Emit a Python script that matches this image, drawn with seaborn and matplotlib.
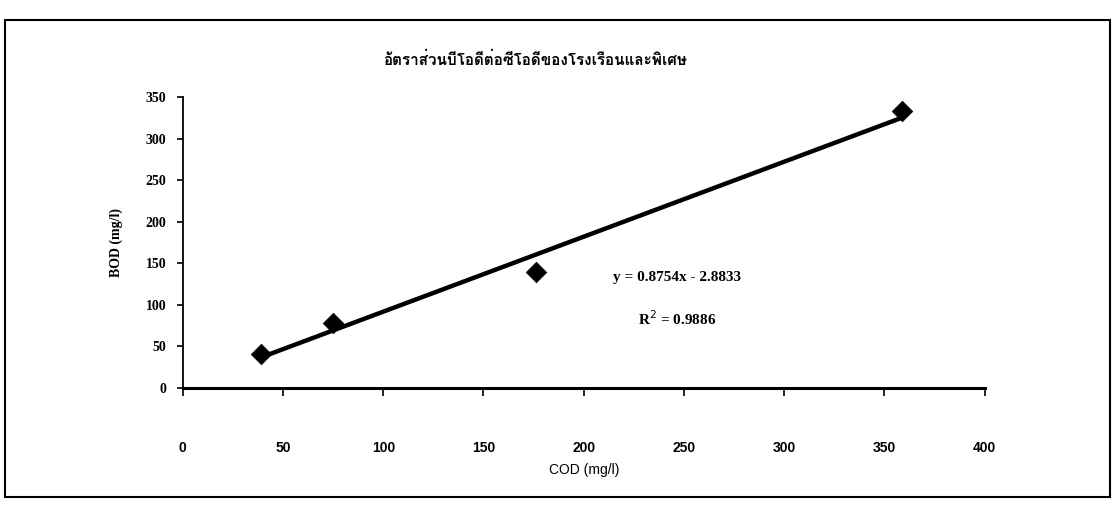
import matplotlib
matplotlib.use("Agg")
import matplotlib.pyplot as plt
from matplotlib import font_manager
from matplotlib.ft2font import FT2Font
from matplotlib.patches import Rectangle
import numpy as np
import pandas as pd
import seaborn as sns

# ---- data ----
cod = [39, 75, 176, 358.6]
bod = [41, 78, 139.6, 333]
title = "อัตราส่วนบีโอดีต่อซีโอดีของโรงเรือนและพิเศษ"
eq_text = "y = 0.8754x - 2.8833"
r2_text = "R$^{2}$ = 0.9886"
x_ticks = [0, 50, 100, 150, 200, 250, 300, 350, 400]
y_ticks = [0, 50, 100, 150, 200, 250, 300, 350]
x_label = "COD (mg/l)"
y_label = "BOD (mg/l)"

df = pd.DataFrame({"COD": cod, "BOD": bod})

sns.set_style("ticks")

# find a font with Thai glyphs
thai_font = None
seen = set()
for fe in font_manager.fontManager.ttflist:
    if fe.name in seen:
        continue
    seen.add(fe.name)
    try:
        cmap = FT2Font(fe.fname).get_charmap()
        if 0x0E2D in cmap and 0x0E35 in cmap:
            thai_font = fe.name
            if "Serif" in fe.name or "Loma" in fe.name or "Sans" in fe.name:
                break
    except Exception:
        pass

serif = ["Liberation Serif", "DejaVu Serif"]
plt.rcParams["font.family"] = serif
for key in ["text.color", "axes.labelcolor", "xtick.color", "ytick.color", "axes.edgecolor"]:
    plt.rcParams[key] = "black"

fig = plt.figure(figsize=(11.15, 5.05), dpi=100)
ax = fig.add_axes([0.164, 0.2317, 0.719, 0.576])

sns.regplot(data=df, x="COD", y="BOD", ax=ax, ci=None, marker="D", color="black",
            scatter_kws=dict(s=110, alpha=1, edgecolor="black", linewidths=0.5, zorder=3),
            line_kws=dict(lw=3.2, color="black"))

ax.set_xlim(0, 400)
ax.set_ylim(0, 350)
ax.set_xticks(x_ticks)
ax.set_yticks(y_ticks)
sans = ["Liberation Sans Narrow", "Liberation Sans", "DejaVu Sans"]
ax.set_xticklabels([str(v) for v in x_ticks], fontsize=10, fontweight="bold", family=sans)
ax.set_yticklabels([str(v) for v in y_ticks], fontsize=10, fontweight="bold")
ax.tick_params(axis="x", direction="out", length=6, width=1.2, pad=32)
ax.tick_params(axis="y", direction="out", length=4, width=1.2, pad=8)
for side in ["top", "right"]:
    ax.spines[side].set_visible(False)
ax.spines["left"].set_linewidth(1.3)
ax.spines["bottom"].set_linewidth(2.2)

ax.set_xlabel(x_label, fontsize=10, family=sans, labelpad=6)
ax.set_ylabel(y_label, fontsize=10, fontweight="bold", labelpad=16)

ax.text(0.617, 0.38, eq_text, transform=ax.transAxes, ha="center", va="center",
        fontsize=11, fontweight="bold")
ax.text(0.617, 0.24, r2_text, transform=ax.transAxes, ha="center", va="center",
        fontsize=11, fontweight="bold")

title_family = [thai_font, "Liberation Serif", "DejaVu Sans"] if thai_font else ["DejaVu Sans"]
fig.text(0.48, 0.881, title, ha="center", va="center", fontsize=11, fontweight="bold",
         family=title_family)

fig.patches.append(Rectangle((0.0045, 0.016), 0.991, 0.945, transform=fig.transFigure,
                             fill=False, edgecolor="black", linewidth=1.5))

fig.savefig("out.png", dpi=100)
